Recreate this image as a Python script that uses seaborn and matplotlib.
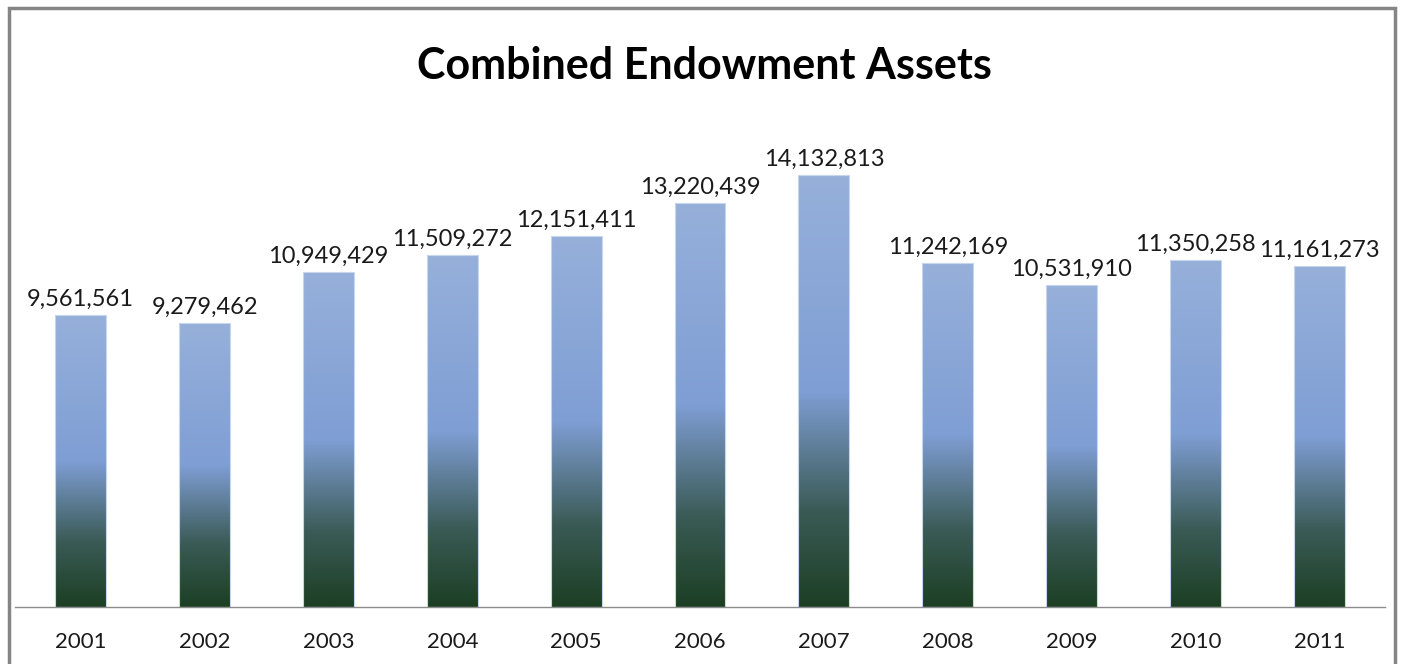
import numpy as np
import pandas as pd
import matplotlib
matplotlib.use("Agg")
import matplotlib.pyplot as plt
import seaborn as sns
from matplotlib.colors import LinearSegmentedColormap
from matplotlib.patches import Rectangle

years = ["2001", "2002", "2003", "2004", "2005", "2006",
         "2007", "2008", "2009", "2010", "2011"]
assets = [9561561, 9279462, 10949429, 11509272, 12151411, 13220439,
          14132813, 11242169, 10531910, 11350258, 11161273]
title = "Combined Endowment Assets"

df = pd.DataFrame({"year": years, "assets": assets})

sns.set_theme(style="white")
plt.rcParams["font.family"] = ["Lato", "DejaVu Sans"]

fig = plt.figure(figsize=(14.01, 6.64), dpi=100)
ax = fig.add_axes([0.0107, 0.0858, 0.9779, 0.7365])

sns.barplot(data=df, x="year", y="assets", ax=ax, width=0.41,
            color="#8fa9d8", edgecolor="#c8d6ec", linewidth=0.8)

# vertical gradient: light blue top -> mid blue -> dark green bottom
grad = LinearSegmentedColormap.from_list(
    "endow", [(0.0, "#1c3f24"), (0.22, "#3a5a55"), (0.5, "#7f9ed4"),
              (1.0, "#96b0da")])
g = np.linspace(0, 1, 256).reshape(-1, 1)
for bar in ax.patches:
    x0, y0 = bar.get_x(), bar.get_y()
    w, h = bar.get_width(), bar.get_height()
    im = ax.imshow(g, cmap=grad, origin="lower", aspect="auto",
                   extent=[x0, x0 + w, y0, y0 + h], zorder=bar.get_zorder())
    im.set_clip_path(bar)
    bar.set_facecolor("none")
    bar.set_zorder(bar.get_zorder() + 0.1)
    ax.text(x0 + w / 2, y0 + h + 170000, f"{int(h):,}", ha="center",
            va="bottom", fontsize=17, color="#1a1a1a")

ax.set_xlim(-0.53, 10.53)
ax.set_ylim(0, 16000000)
ax.set_xlabel("")
ax.set_ylabel("")
ax.set_yticks([])
ax.tick_params(axis="x", labelsize=16, colors="#1a1a1a", pad=18, length=0)
for s in ["left", "right", "top"]:
    ax.spines[s].set_visible(False)
ax.spines["bottom"].set_color("#8c8c8c")
ax.spines["bottom"].set_linewidth(1.0)

fig.text(0.503, 0.900, title, ha="center", va="center", fontsize=31,
         fontweight="bold", color="black")

fig.patches.append(Rectangle((0.0064, -0.02), 0.9893, 1.008,
                             transform=fig.transFigure, fill=False,
                             edgecolor="#858585", linewidth=2.5))

fig.savefig("out.png", dpi=100)
